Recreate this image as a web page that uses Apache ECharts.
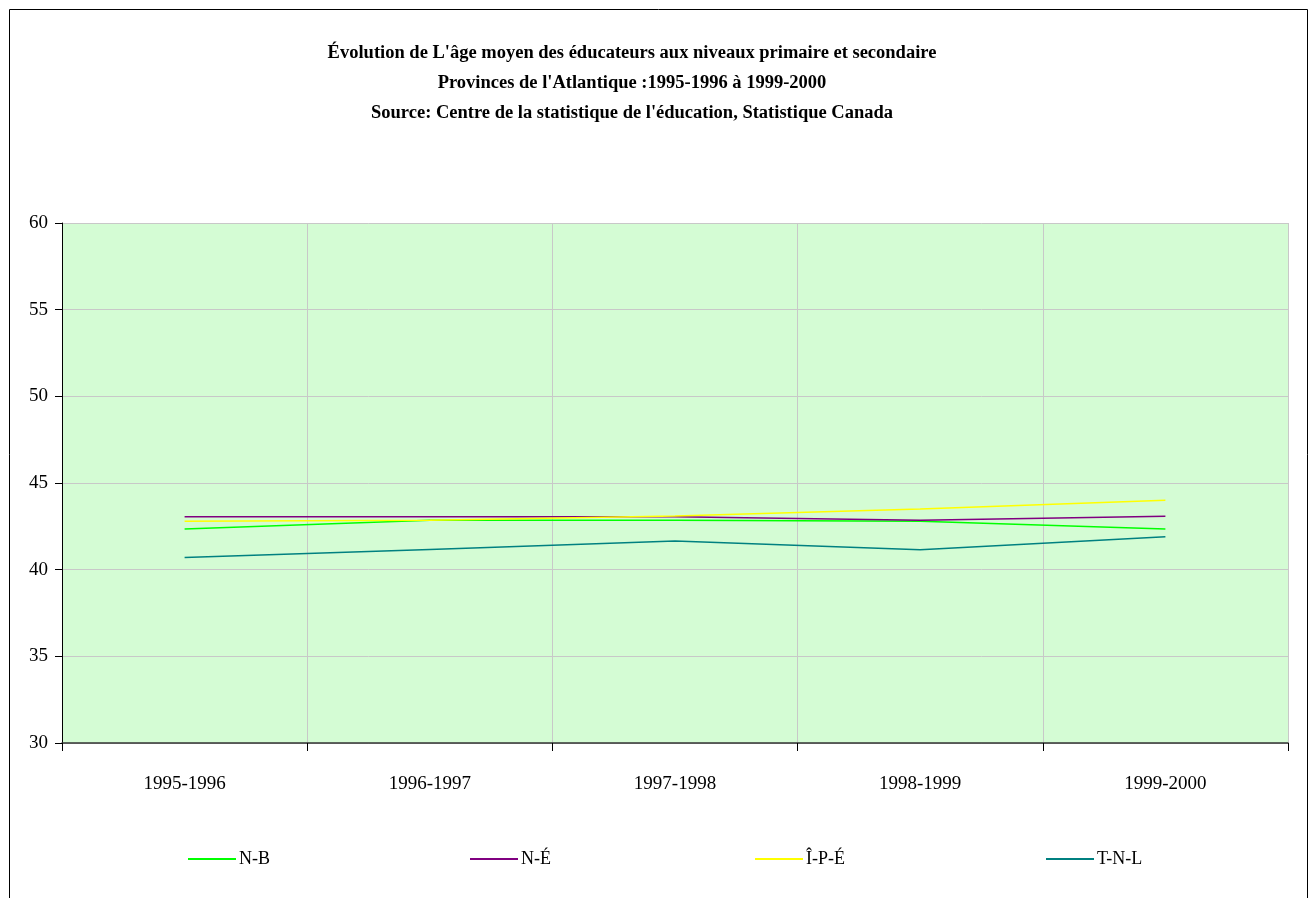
<!DOCTYPE html>
<html><head><meta charset="utf-8">
<script src="https://cdn.jsdelivr.net/npm/echarts@6/dist/echarts.min.js"></script>
<style>html,body{margin:0;padding:0;background:#fff}#c{width:1315px;height:898px}</style>
</head><body><div id="c"></div>
<script>
const categories = ['1995-1996','1996-1997','1997-1998','1998-1999','1999-2000'];
const nb   = [42.35, 42.85, 42.85, 42.8, 42.35];
const ne   = [43.05, 43.05, 43.05, 42.85, 43.08];
const ipe  = [42.8, 42.85, 43.1, 43.5, 44.0];
const tnl  = [40.7, 41.17, 41.65, 41.15, 41.9];
const seriesNames = ['N-B','N-É','Î-P-É','T-N-L'];
const colors = ['#00FF00','#800080','#FFFF00','#008080'];
const titleLines = ["Évolution de L'âge moyen des éducateurs aux niveaux primaire et secondaire",
  "Provinces de l'Atlantique :1995-1996 à 1999-2000",
  "Source: Centre de la statistique de l'éducation, Statistique Canada"];
const FONT = '"Liberation Serif","DejaVu Serif",serif';
const chart = echarts.init(document.getElementById('c'));
const data = [nb, ne, ipe, tnl];
const legendLeft = [188, 470, 755, 1046];
chart.setOption({
  animation:false,
  backgroundColor:'#fff',
  color: colors,
  graphic:[{type:'rect',shape:{x:9.5,y:9.5,width:1298,height:900},style:{fill:null,stroke:'#000',lineWidth:1},silent:true}],
  title:{text:titleLines.join('\n'),left:627,textAlign:'center',top:33,
    textStyle:{fontFamily:FONT,fontWeight:'bold',fontSize:18.5,lineHeight:30,color:'#000'}},
  legend: seriesNames.map((n,i)=>({data:[n],left:legendLeft[i],top:850,padding:0,itemWidth:48,itemHeight:2,icon:'rect',itemGap:2,
    textStyle:{fontFamily:FONT,fontSize:18,color:'#000',padding:[0,0,0,-2]}})),
  grid:{left:62,right:27,top:223,bottom:155,show:true,backgroundColor:'#D4FCD4',borderWidth:0},
  xAxis:{type:'category',data:categories,boundaryGap:true,
    axisLine:{lineStyle:{color:'#333',width:1.5}},
    axisTick:{show:true,length:8,lineStyle:{color:'#000'}},
    axisLabel:{fontFamily:FONT,fontSize:19,color:'#000',margin:32},
    splitLine:{show:true,lineStyle:{color:'#c8c8c8',width:1}}},
  yAxis:{type:'value',min:30,max:60,interval:5,
    axisLine:{show:true,lineStyle:{color:'#000',width:1}},
    axisTick:{show:true,length:7,lineStyle:{color:'#000'}},
    axisLabel:{fontFamily:FONT,fontSize:19,color:'#000',margin:14},
    splitLine:{show:true,lineStyle:{color:'#c8c8c8',width:1}}},
  series: seriesNames.map((n,i)=>({name:n,type:'line',data:data[i],symbol:'none',
    lineStyle:{width:1.5,color:colors[i]},itemStyle:{color:colors[i]}}))
});
</script></body></html>
